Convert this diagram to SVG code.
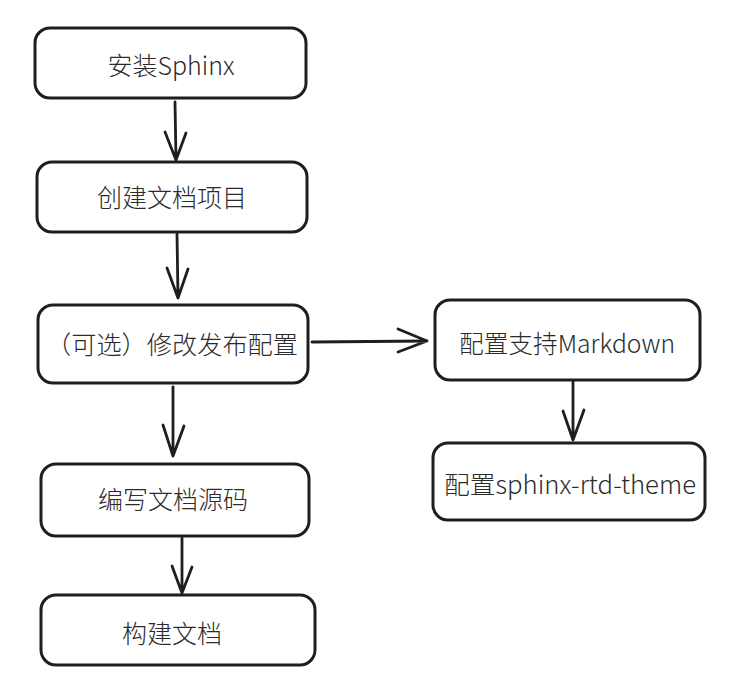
<svg xmlns="http://www.w3.org/2000/svg" width="732" height="686" viewBox="0 0 732 686">
<style>
.box{fill:#fff;stroke:#1e1e1e;stroke-width:3;stroke-linejoin:round}
.lbl{font-family:"Noto Sans CJK SC","Noto Sans",sans-serif;font-size:25px;font-weight:300;fill:#2b2b2b;text-anchor:middle;dominant-baseline:central}
.edge{fill:none;stroke:#1e1e1e;stroke-width:2.8;stroke-linecap:round;stroke-linejoin:round}
</style>
<rect width="732" height="686" fill="#fff"/>
<g id="n1"><rect class="box" x="35" y="28" width="271" height="70" rx="15"/><text class="lbl" x="171" y="64">安装Sphinx</text></g>
<g id="n2"><rect class="box" x="37" y="162" width="270" height="70" rx="15"/><text class="lbl" x="172" y="196">创建文档项目</text></g>
<g id="n3"><rect class="box" x="38" y="305" width="270" height="78" rx="15"/><text class="lbl" x="172" y="343" textLength="252" lengthAdjust="spacingAndGlyphs">（可选）修改发布配置</text></g>
<g id="n4"><rect class="box" x="435" y="300" width="265" height="80" rx="15"/><text class="lbl" x="567" y="342" textLength="216" lengthAdjust="spacingAndGlyphs">配置支持Markdown</text></g>
<g id="n5"><rect class="box" x="433" y="443" width="272" height="77" rx="15"/><text class="lbl" x="570" y="483" textLength="252" lengthAdjust="spacingAndGlyphs">配置sphinx-rtd-theme</text></g>
<g id="n6"><rect class="box" x="41" y="464" width="268" height="72" rx="15"/><text class="lbl" x="173" y="498">编写文档源码</text></g>
<g id="n7"><rect class="box" x="41" y="595" width="274" height="70" rx="15"/><text class="lbl" x="172" y="632">构建文档</text></g>
<g id="edges">
<path class="edge" d="M175 102 L176 160 M165 132 L176 160 L186 133"/>
<path class="edge" d="M177 234 L178 298 M167 268 L178 298 L188 269"/>
<path class="edge" d="M312 342 L427 341 M398 329 L427 341 L398 352"/>
<path class="edge" d="M573 381 L573 440 M563 411 L573 440 L584 410"/>
<path class="edge" d="M173 387 L173 456 M163 425 L173 456 L184 426"/>
<path class="edge" d="M182 538 L182 593 M172 566 L182 593 L192 567"/>
</g>
</svg>
